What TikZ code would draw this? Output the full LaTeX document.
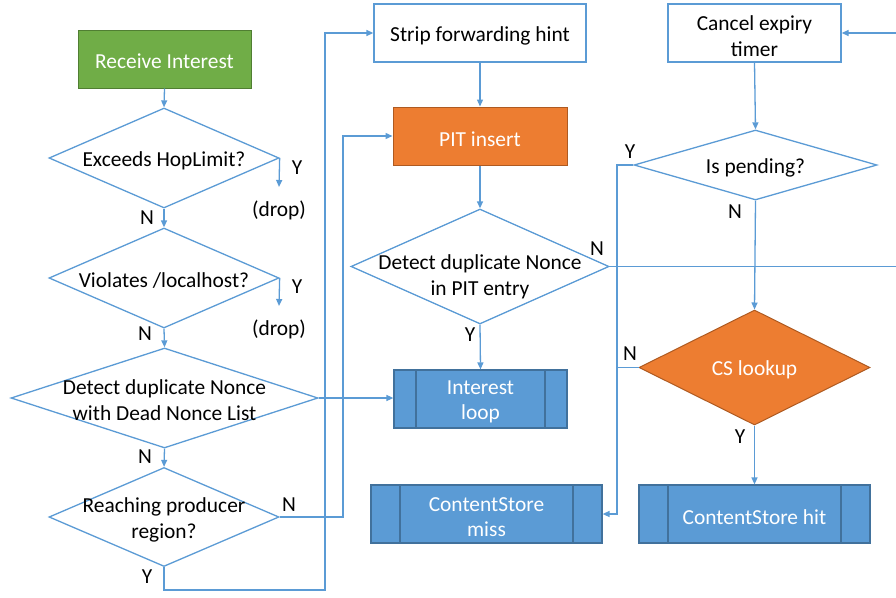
\documentclass[tikz,border=0pt]{standalone}
\usepackage{fontspec}
\setmainfont{Carlito}
\usetikzlibrary{shapes.geometric,arrows.meta}
\definecolor{linkblue}{HTML}{5B9BD5}
\definecolor{procfill}{HTML}{5B9BD5}
\definecolor{procdraw}{HTML}{41719C}
\definecolor{startfill}{HTML}{70AD47}
\definecolor{startdraw}{HTML}{507E32}
\definecolor{hotfill}{HTML}{ED7D31}
\definecolor{hotdraw}{HTML}{AE5A21}
\tikzset{
  wire/.style={draw=linkblue, line width=1.3pt},
  flow/.style={wire, -{Triangle[length=7pt,width=6pt]}},
  stepbox/.style={draw=linkblue, line width=1.3pt, fill=white, inner sep=0pt,
    minimum width=#1, minimum height=58pt},
  startbox/.style={draw=startdraw, line width=1pt, fill=startfill,
    inner sep=0pt, minimum width=173pt, minimum height=58pt},
  hotbox/.style={draw=hotdraw, line width=1pt, fill=hotfill,
    inner sep=0pt, minimum width=174pt, minimum height=58pt},
  decide/.style n args={2}{diamond, draw=linkblue, line width=1.3pt, fill=white,
    inner sep=0pt, minimum width=#1, minimum height=#2},
  hotdecide/.style n args={2}{diamond, draw=hotdraw, line width=1pt, fill=hotfill,
    inner sep=0pt, minimum width=#1, minimum height=#2},
  subproc/.style n args={2}{draw=procdraw, line width=1.2pt, fill=procfill,
    inner sep=0pt, minimum width=#1, minimum height=58pt,
    path picture={
      \draw[procdraw, line width=1.2pt]
        ([xshift=#2]path picture bounding box.north west) --
        ([xshift=#2]path picture bounding box.south west)
        ([xshift=-#2]path picture bounding box.north east) --
        ([xshift=-#2]path picture bounding box.south east);
    }},
  txt/.style={inner sep=0pt, align=center},
  wtxt/.style={txt, text=white},
  tag/.style={inner sep=0pt},
}
\begin{document}
\begin{tikzpicture}[x=1pt, y=-1pt, font=\fontsize{21.4}{25.5}\selectfont]
\useasboundingbox (0,0) rectangle (896,597);

% left column: admission checks
\node[startbox] (recv) at (164.5,59) {};
\node[wtxt] (recvT) at (164.5,61) {Receive Interest};
\node[decide={230pt}{100pt}] (hop) at (164,158) {};
\node[txt] (hopT) at (164,161) {Exceeds HopLimit?};
\node[decide={230pt}{100pt}] (lh) at (164,278) {};
\node[txt] (lhT) at (164,281) {Violates /localhost?};
\node[decide={307pt}{100pt}] (dnl) at (164.5,398) {};
\node[txt] (dnlT) at (164.5,400) {Detect duplicate Nonce\\with Dead Nonce List};
\node[decide={230pt}{99pt}] (prod) at (164,517) {};
\node[txt] (prodT) at (164,520) {Reaching producer\\region?};

% middle column: PIT processing
\node[stepbox=212pt] (strip) at (480,33) {};
\node[txt] (stripT) at (480,36) {Strip forwarding hint};
\node[hotbox] (pit) at (480,136) {};
\node[wtxt] (pitT) at (480,139) {PIT insert};
\node[decide={258pt}{115pt}] (dup) at (480,266.5) {};
\node[txt] (dupT) at (480,277) {Detect duplicate Nonce\\in PIT entry};
\node[subproc={173pt}{22pt}] (loop) at (480.5,399) {};
\node[wtxt] (loopT) at (480.5,402) {Interest\\loop};
\node[subproc={231pt}{29pt}] (miss) at (486.5,514) {};
\node[wtxt] (missT) at (486.5,517) {ContentStore\\miss};

% right column: pending check and content store
\node[stepbox=173pt] (cancel) at (754.5,33) {};
\node[txt] (cancelT) at (754.5,36) {Cancel expiry\\timer};
\node[decide={243pt}{70pt}] (pend) at (755.5,165) {};
\node[txt] (pendT) at (755.5,168) {Is pending?};
\node[hotdecide={231pt}{115pt}] (cs) at (754.5,367.5) {};
\node[wtxt] (csT) at (754.5,370) {CS lookup};
\node[subproc={231pt}{29pt}] (hit) at (754.5,514) {};
\node[wtxt] (hitT) at (754.5,517) {ContentStore hit};

% drop outcomes
\coordinate (hopDrop) at (279,187);
\coordinate (lhDrop) at (279,306);
\node[tag] (drop1) at (279,210) {(drop)};
\node[tag] (drop2) at (279,329) {(drop)};

% routing points
\coordinate (yBend) at (325,590);
\coordinate (nBend) at (343,300);
\coordinate (rightA) at (896,266.5);
\coordinate (rightB) at (896,33);
\coordinate (join) at (617,300);

% connectors
\draw[flow] (recv.south) -- (hop.north);
\draw[flow] (hop.east) -- (hopDrop);
\draw[flow] (hop.south) -- (lh.north);
\draw[flow] (lh.east) -- (lhDrop);
\draw[flow] (lh.south) -- (dnl.north);
\draw[flow] (dnl.south) -- (prod.north);
\draw[flow] (dnl.east) -- (dnl.east -| loop.west);
\draw[flow] (prod.south) |- (yBend) |- (strip.west);
\draw[flow] (prod.east) -| (nBend) |- (pit.west);
\draw[flow] (strip.south) -- (pit.north);
\draw[flow] (pit.south) -- (dup.north);
\draw[flow] (dup.south) -- (loop.north);
\draw[wire] (dup.east) -- (rightA);
\draw[flow] (rightB) -- (cancel.east);
\draw[flow] (cancel.south) -- (pend.north);
\draw[flow] (pend.south) -- (cs.north);
\draw[flow] (pend.west) -| (join) |- (miss.east);
\draw[wire] (cs.west) -- (cs.west -| join);
\draw[flow] (cs.south) -- (hit.north);

% branch labels
\node[tag] (y1) at (297,168) {Y};
\node[tag] (n1) at (147,218) {N};
\node[tag] (y2) at (297,287) {Y};
\node[tag] (n2) at (145,334) {N};
\node[tag] (n3) at (145,457) {N};
\node[tag] (n4) at (289,505) {N};
\node[tag] (y4) at (147,577) {Y};
\node[tag] (n5) at (597,249) {N};
\node[tag] (y5) at (470,335) {Y};
\node[tag] (y6) at (630,152) {Y};
\node[tag] (n6) at (735,212) {N};
\node[tag] (n7) at (630,354) {N};
\node[tag] (y7) at (740,437) {Y};
\end{tikzpicture}
\end{document}
